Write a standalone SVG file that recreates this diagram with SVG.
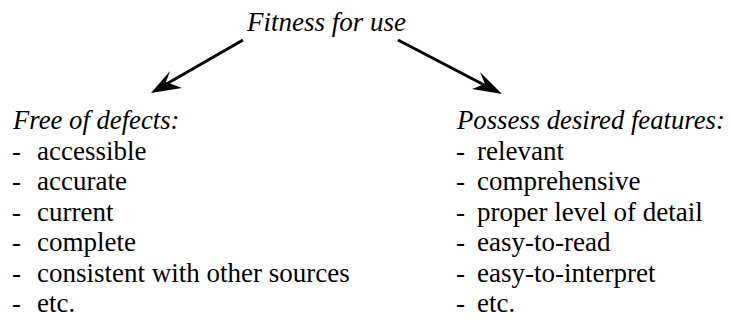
<svg xmlns="http://www.w3.org/2000/svg" width="731" height="324" viewBox="0 0 731 324">
<style>
text{font-family:"Liberation Serif","Times New Roman",serif;fill:#000}
.it{font-style:italic;font-size:26.7px}
.ti{font-style:italic;font-size:27px}
.li{font-size:27px}
.c{stroke:#000;stroke-width:3;fill:none}
.h{fill:#000;stroke:none}
</style>
<rect width="731" height="324" fill="#fff"/>
<g id="title"><text class="ti" x="247" y="31">Fitness for use</text></g>
<g id="connectors">
<line class="c" x1="243" y1="40" x2="163" y2="86"/>
<path class="h" d="M151,93 L170,71 L166,82 L182,88 Z"/>
<line class="c" x1="398" y1="40" x2="490" y2="88"/>
<path class="h" d="M502,94 L480,72 L485,84 L472,89 Z"/>
</g>
<g id="left">
<text class="it" x="13" y="129">Free of defects:</text>
<text class="li" x="12" y="160">-</text><text class="li" x="37" y="160">accessible</text>
<text class="li" x="12" y="190">-</text><text class="li" x="37" y="190">accurate</text>
<text class="li" x="12" y="221">-</text><text class="li" x="37" y="221">current</text>
<text class="li" x="12" y="251">-</text><text class="li" x="37" y="251">complete</text>
<text class="li" x="12" y="282">-</text><text class="li" x="37" y="282">consistent with other sources</text>
<text class="li" x="12" y="312">-</text><text class="li" x="37" y="312">etc.</text>
</g>
<g id="right">
<text class="it" x="457" y="129">Possess desired features:</text>
<text class="li" x="456" y="160">-</text><text class="li" x="477" y="160">relevant</text>
<text class="li" x="456" y="190">-</text><text class="li" x="477" y="190">comprehensive</text>
<text class="li" x="456" y="221">-</text><text class="li" x="477" y="221">proper level of detail</text>
<text class="li" x="456" y="251">-</text><text class="li" x="477" y="251">easy-to-read</text>
<text class="li" x="456" y="282">-</text><text class="li" x="477" y="282">easy-to-interpret</text>
<text class="li" x="456" y="312">-</text><text class="li" x="477" y="312">etc.</text>
</g>
</svg>
